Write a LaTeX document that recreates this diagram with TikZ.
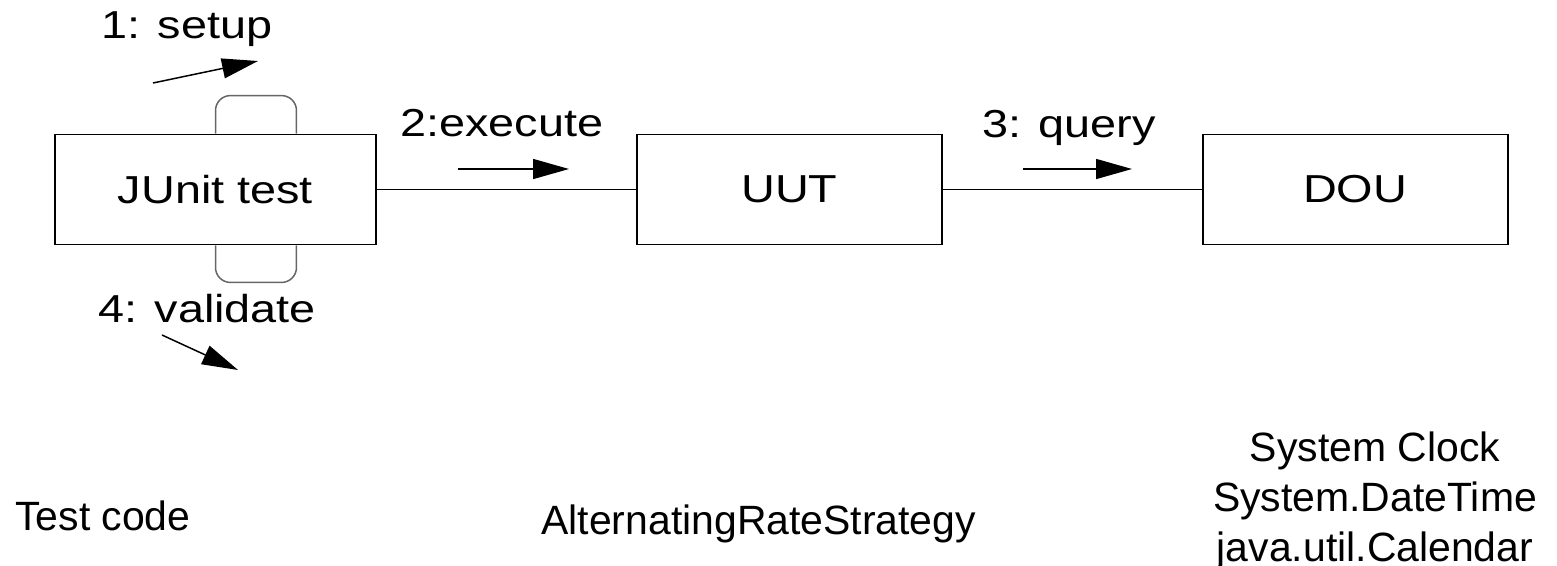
\documentclass[tikz,border=0pt]{standalone}
\usepackage{fontspec}
\setmainfont{Liberation Sans}
\newfontfamily\diagfont[FakeStretch=1.2]{Liberation Sans}
\usepackage{tikz}
\usetikzlibrary{positioning}
\usetikzlibrary{arrows.meta}
\tikzstyle{object} = [rectangle, minimum width=6.1cm, minimum height=2.2cm, text centered, draw=black, line width=1.1pt, font=\diagfont\fontsize{22.2}{26}\selectfont]
\tikzstyle{msg} = [anchor=base west, inner sep=0pt, font=\diagfont\fontsize{22.2}{26}\selectfont]
\tikzstyle{caption} = [inner sep=0pt, align=center, font=\fontsize{23.3}{28.5}\selectfont]
\tikzstyle{link} = [line width=1.1pt]
\tikzstyle{selfloop} = [draw=black!60, line width=0.85pt, rounded corners=0.3cm]
\tikzstyle{arrow} = [line width=0.85pt, -{Triangle[length=0.72cm, width=0.4cm]}]

\begin{document}
\begin{tikzpicture}[x=0.02cm, y=-0.02cm]
    \useasboundingbox (0,0) rectangle (1557,565);
    \node (junit) [object, minimum width=6.42cm] at (215.5,189.5) {JUnit test};
    \node (uut) [object, right=5.18cm of junit] {UUT};
    \node (dou) [object, right=5.18cm of uut] {DOU};
    \draw [link] (junit) -- (uut);
    \draw [link] (uut) -- (dou);
    % self calls on the test
    \draw [selfloop] (junit.north) -- ++(0,-38) -| ([xshift=1.62cm]junit.north);
    \draw [selfloop] (junit.south) -- ++(0,37) -| ([xshift=1.62cm]junit.south);
    % messages
    \node (setup) [msg] at (101,38) {1: setup};
    \node (execute) [msg] at (400,136) {2:execute};
    \node (query) [msg] at (982,137) {3: query};
    \node (validate) [msg] at (98,322) {4: validate};
    \coordinate (setupA) at (153,83);
    \coordinate (setupB) at (258,61);
    \coordinate (execA) at (458,169);
    \coordinate (execB) at (569,169);
    \coordinate (queryA) at (1023,169);
    \coordinate (queryB) at (1132,169);
    \coordinate (validA) at (162,335);
    \coordinate (validB) at (238,370);
    \draw [arrow] (setupA) -- (setupB);
    \draw [arrow] (execA) -- (execB);
    \draw [arrow] (queryA) -- (queryB);
    \draw [arrow] (validA) -- (validB);
    % what each object stands for
    \node (testcode) [caption, anchor=base west] at (15,530) {Test code};
    \node (strategy) [caption, anchor=base west] at (541,534) {AlternatingRateStrategy};
    \node (clock) [caption, anchor=north] at (1375,431) {System Clock\\System.DateTime\\java.util.Calendar};
\end{tikzpicture}
\end{document}
